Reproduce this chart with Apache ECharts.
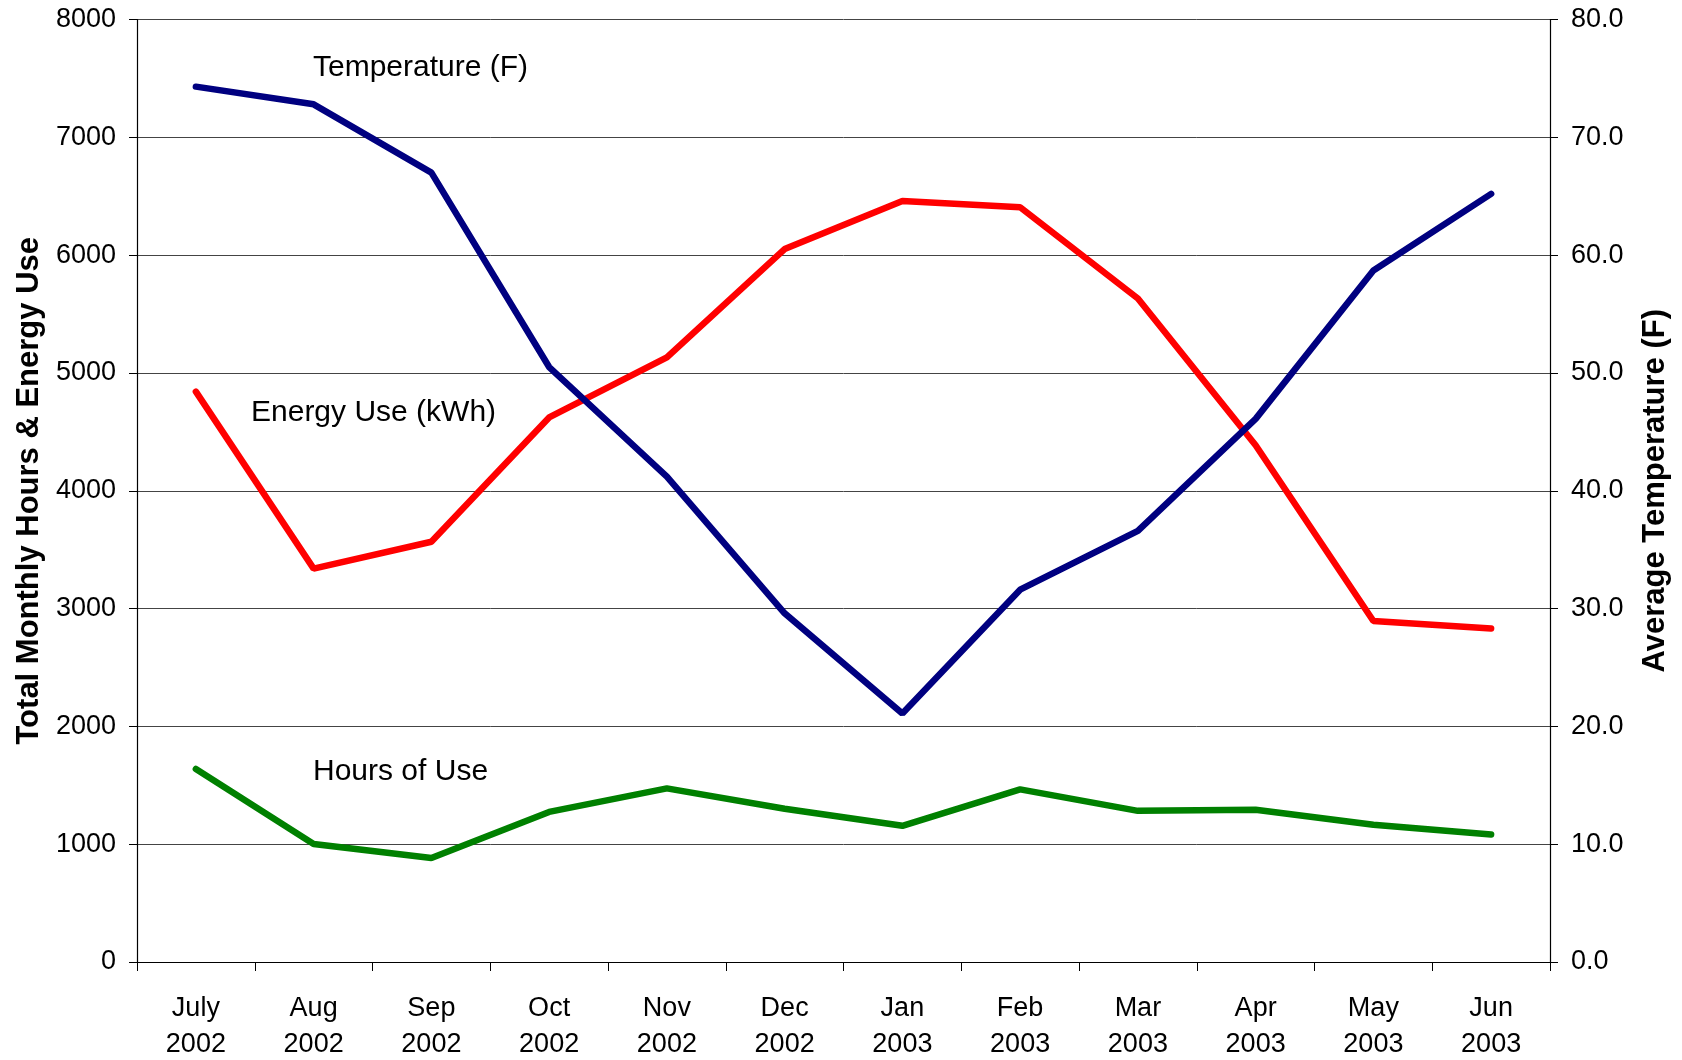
<!DOCTYPE html>
<html><head><meta charset="utf-8">
<script src="https://cdn.jsdelivr.net/npm/echarts@6/dist/echarts.min.js"></script>
<style>html,body{margin:0;padding:0;background:#fff}#c{width:1682px;height:1060px}</style>
</head><body><div id="c"></div>
<script>
const categories = ['July\n2002','Aug\n2002','Sep\n2002','Oct\n2002','Nov\n2002','Dec\n2002','Jan\n2003','Feb\n2003','Mar\n2003','Apr\n2003','May\n2003','Jun\n2003'];
const temperature = [74.3,72.8,67.0,50.5,41.2,29.6,21.1,31.6,36.6,46.1,58.7,65.2];
const energyUse = [4841,3339,3567,4622,5132,6051,6460,6406,5632,4386,2894,2830];
const hoursOfUse = [1638,1001,883,1274,1474,1301,1156,1465,1283,1292,1165,1083];
const leftTitle = 'Total Monthly Hours & Energy Use';
const rightTitle = 'Average Temperature (F)';

const FONT = '"Liberation Sans", Arial, sans-serif';
const chart = echarts.init(document.getElementById('c'), null, {renderer:'canvas'});
chart.setOption({
  animation:false,
  backgroundColor:'#fff',
  textStyle:{fontFamily:FONT},
  grid:{left:137,right:132,top:19.5,bottom:98,containLabel:false,outerBoundsMode:'none'},
  xAxis:{
    type:'category',data:categories,boundaryGap:true,
    axisLine:{lineStyle:{color:'#000',width:1.2}},
    axisTick:{show:true,length:9,lineStyle:{color:'#000'},alignWithLabel:false},
    axisLabel:{color:'#000',fontSize:27,fontFamily:FONT,margin:29,lineHeight:36},
    splitLine:{show:false}
  },
  yAxis:[{
    type:'value',min:0,max:8000,interval:1000,position:'left',
    name:leftTitle,nameLocation:'middle',nameGap:91,
    nameTextStyle:{color:'#000',fontSize:31,fontWeight:'bold',fontFamily:FONT},
    axisLine:{show:true,lineStyle:{color:'#000',width:1.2}},
    axisTick:{show:true,length:8,lineStyle:{color:'#000'}},
    axisLabel:{color:'#000',fontSize:27,fontFamily:FONT,margin:21,formatter:v=>String(v)},
    splitLine:{show:true,lineStyle:{color:'#444',width:1}}
  },{
    type:'value',min:0,max:80,interval:10,position:'right',
    name:rightTitle,nameLocation:'middle',nameGap:90,nameRotate:90,
    nameTextStyle:{color:'#000',fontSize:31,fontWeight:'bold',fontFamily:FONT},
    axisLine:{show:true,lineStyle:{color:'#000',width:1.2}},
    axisTick:{show:true,length:8,lineStyle:{color:'#000'}},
    axisLabel:{color:'#000',fontSize:27,fontFamily:FONT,margin:21,formatter:v=>v.toFixed(1)},
    splitLine:{show:false}
  }],
  series:[
    {name:'Temperature (F)',type:'line',yAxisIndex:1,data:temperature,symbol:'none',
     lineStyle:{color:'#000080',width:6.5,cap:'round'},z:3},
    {name:'Energy Use (kWh)',type:'line',yAxisIndex:0,data:energyUse,symbol:'none',
     lineStyle:{color:'#ff0000',width:6.5,cap:'round'},z:2},
    {name:'Hours of Use',type:'line',yAxisIndex:0,data:hoursOfUse,symbol:'none',
     lineStyle:{color:'#008000',width:6.5,cap:'round'},z:2}
  ],
  graphic:[
    {type:'text',left:313,top:53,style:{text:'Temperature (F)',fill:'#000',font:'30px '+FONT}},
    {type:'text',left:251,top:398,style:{text:'Energy Use (kWh)',fill:'#000',font:'30px '+FONT}},
    {type:'text',left:313,top:757,style:{text:'Hours of Use',fill:'#000',font:'30px '+FONT}}
  ]
});
</script></body></html>
